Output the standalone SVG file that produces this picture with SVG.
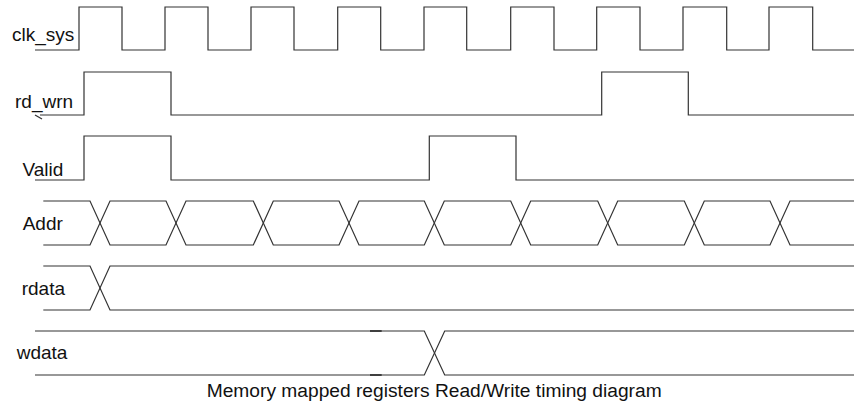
<svg xmlns="http://www.w3.org/2000/svg" width="854" height="404" viewBox="0 0 854 404">
<style>
.w{fill:none;stroke:#333;stroke-width:1.2;stroke-linejoin:miter}
.t{font-family:"Liberation Sans",Arial,sans-serif;font-size:19px;fill:#111}
.c{font-size:19.2px}
.m{stroke:#222;stroke-width:1.7}
</style>
<rect width="854" height="404" fill="#fff"/>
<g id="clk_sys">
<text class="t" x="12" y="41">clk_sys</text>
<path class="w" d="M35,50 H79 V7 H122 V50 H165 V7 H208 V50 H251 V7 H294 V50 H337.7 V7 H380.7 V50 H424 V7 H466.7 V50 H510.7 V7 H554 V50 H596.7 V7 H640 V50 H683 V7 H726.7 V50 H769 V7 H812.7 V50 H854"/>
</g>
<g id="rd_wrn">
<text class="t" x="15" y="108">rd_wrn</text>
<path class="w" d="M40,115 H84 V72 H171 V115 H601.7 V72 H688.3 V115 H854"/>
<path class="w" d="M35,115 L42,119"/>
</g>
<g id="Valid">
<text class="t" x="22.5" y="176">Valid</text>
<path class="w" d="M35,180 H84 V136 H171 V180 H429.3 V136 H516 V180 H854"/>
</g>
<g id="Addr">
<text class="t" x="22.7" y="230">Addr</text>
<path class="w" d="M43.3,201 H90 L110,245 H166 L186,201 H253.3 L273.3,245 H339 L359,201 H424.3 L444.3,245 H510.7 L530.7,201 H597.7 L617.7,245 H684.3 L704.3,201 H770 L790,245 H854"/>
<path class="w" d="M43.3,245 H90 L110,201 H166 L186,245 H253.3 L273.3,201 H339 L359,245 H424.3 L444.3,201 H510.7 L530.7,245 H597.7 L617.7,201 H684.3 L704.3,245 H770 L790,201 H854"/>
</g>
<g id="rdata">
<text class="t" x="21.7" y="295">rdata</text>
<path class="w" d="M43.3,266 H90 L110,310 H854"/>
<path class="w" d="M43.3,310 H90 L110,266 H854"/>
</g>
<g id="wdata">
<text class="t" x="16.7" y="359">wdata</text>
<path class="w" d="M35,331 H424.3 L444.7,375 H854"/>
<path class="w" d="M35,375 H424.3 L444.7,331 H854"/>
<path class="m" d="M370,331 H381.7 M370,375 H381.7"/>
</g>
<g id="connectors"></g>
<text class="t c" x="206.7" y="397">Memory mapped registers Read/Write timing diagram</text>
</svg>
